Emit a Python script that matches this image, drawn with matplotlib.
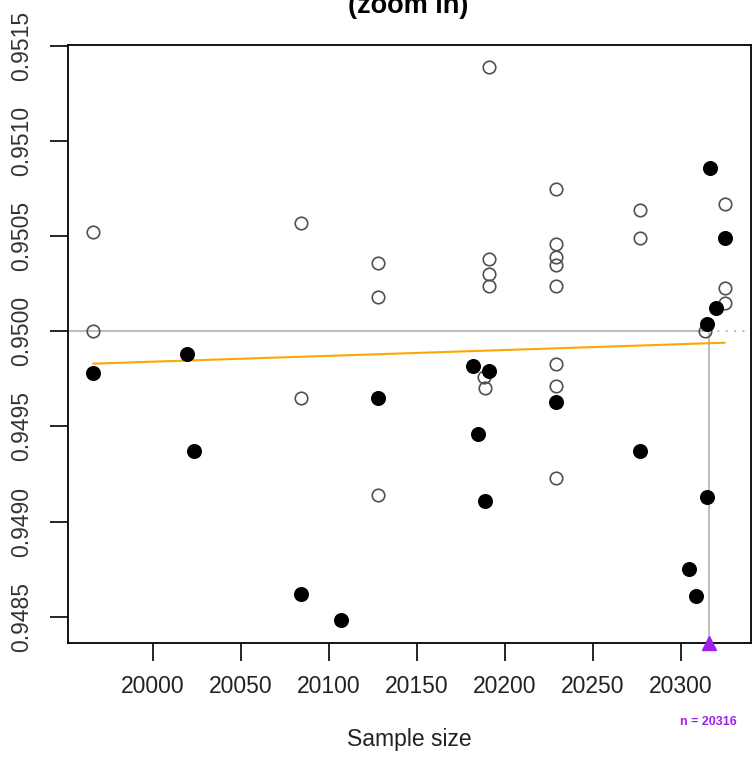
import numpy as np
import matplotlib
matplotlib.use("Agg")
import matplotlib.pyplot as plt

plt.rcParams['font.family'] = ['Liberation Sans', 'DejaVu Sans']

# open circles
open_n = [19966, 19966, 20084, 20084, 20128, 20128, 20128, 20191, 20191, 20191, 20191,
          20188, 20189, 20229, 20229, 20229, 20229, 20229, 20229, 20229, 20229,
          20277, 20277, 20325, 20325, 20325, 20314]
open_cov = [0.95052, 0.95000, 0.95057, 0.94965, 0.95036, 0.95018, 0.94914, 0.95139,
            0.95038, 0.95030, 0.95024, 0.94976, 0.94970, 0.95075, 0.95046, 0.95039,
            0.95035, 0.95024, 0.94983, 0.94971, 0.94923, 0.95064, 0.95049, 0.95067,
            0.95023, 0.95015, 0.95000]

# filled circles
fill_n = [19966, 20019, 20023, 20084, 20107, 20128, 20182, 20191, 20185, 20189,
          20229, 20277, 20305, 20309, 20315, 20317, 20315, 20320, 20325]
fill_cov = [0.94978, 0.94988, 0.94937, 0.94862, 0.94848, 0.94965, 0.94982, 0.94979,
            0.94946, 0.94911, 0.94963, 0.94937, 0.94875, 0.94861, 0.94913, 0.95086,
            0.95004, 0.95012, 0.95049]

# fitted trend
trend_n = [19966, 20325]
trend_cov = [0.94983, 0.94994]

target = 0.95
n_opt = 20316

fig = plt.figure(figsize=(7.53, 7.59), dpi=100)
ax = fig.add_axes([0.0903, 0.1532, 0.9067, 0.7875])

ax.plot(open_n, open_cov, 'o', ms=9, mfc='none', mec='#505050', mew=1.2, zorder=3)
ax.plot(fill_n, fill_cov, 'o', ms=9.8, color='black', zorder=3)
ax.plot(trend_n, trend_cov, color='#ffa500', lw=1.5, zorder=2)

ax.set_xlim(19951.6, 20339.9)
ax.set_ylim(0.948363, 0.951505)

ax.plot([19951.6, n_opt], [target, target], color='#bebebe', lw=1.5, zorder=1)
ax.plot([n_opt, 20339.9], [target, target], color='#bebebe', lw=1.5, ls=(0, (1, 3)), zorder=1)
ax.plot([n_opt, n_opt], [0.948363, target], color='#bebebe', lw=1.5, zorder=1)
ax.plot([n_opt], [0.948363], '^', ms=10, color='#a020f0', clip_on=False, zorder=4)

ax.set_xticks(np.arange(20000, 20301, 50))
ax.set_yticks(np.arange(0.9485, 0.95151, 0.0005))
ax.set_xticklabels([str(v) for v in range(20000, 20301, 50)])
ax.set_yticklabels(['%.4f' % v for v in np.arange(0.9485, 0.95151, 0.0005)])
ax.tick_params(axis='both', labelsize=16.5, length=13, width=1.2)
ax.tick_params(axis='x', pad=10)
ax.tick_params(axis='y', pad=12, labelrotation=90)
for t in ax.get_yticklabels():
    t.set_va('center')
    t.set_color('#333333')
for t in ax.get_xticklabels():
    t.set_color('#222222')
for s in ax.spines.values():
    s.set_linewidth(1.3)

ax.set_xlabel('Sample size', fontsize=16.5, labelpad=22, color='#222222')
# label under the chosen n, in axis data coordinates for x
ax.annotate('n = %d' % n_opt, xy=(n_opt, 0), xycoords=('data', 'axes fraction'),
            xytext=(0, -79), textcoords='offset pixels', fontsize=9, fontweight='bold',
            color='#a020f0', ha='center', va='center', annotation_clip=False)
fig.text(408 / 753, 1 - 12.7 / 759, '(zoom in)', fontsize=19.5, fontweight='bold',
         ha='center', va='baseline')

fig.savefig('out.png', dpi=100)
